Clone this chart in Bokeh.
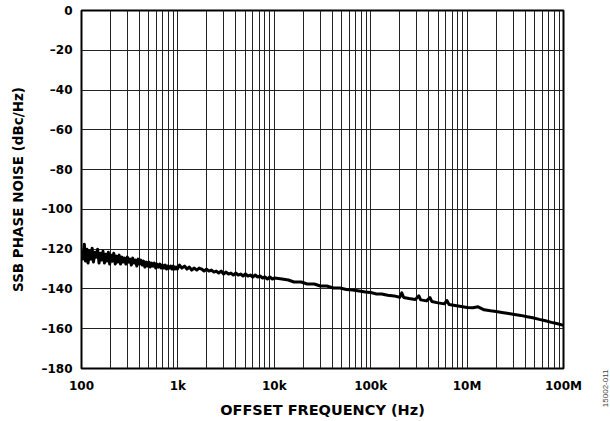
import math
from bokeh.plotting import figure
from bokeh.layouts import row
from bokeh.models import Range1d, FixedTicker
from bokeh.embed import file_html
from bokeh.resources import INLINE

# ---- data ----
freq_hz = [
    100, 103, 107, 110, 114, 117, 121, 125, 129, 133, 138, 142, 147, 152, 157,
    162, 167, 173, 178, 184, 190, 196, 203, 210, 216, 224, 231, 238, 246, 254,
    263, 271, 280, 289, 299, 309, 319, 329, 340, 351, 363, 375, 387, 400, 413,
    426, 440, 455, 470, 485, 501, 517, 534, 552, 570, 589, 608, 628, 649, 670,
    692, 715, 738, 762, 787, 813, 840, 868, 896, 926, 956, 988,
    1040, 1100, 1170, 1240, 1310, 1390, 1480, 1570, 1660, 1760, 1870, 1980,
    2100, 2230, 2360, 2500, 2650, 2810, 2980, 3160, 3350, 3550, 3760, 3980,
    4220, 4470, 4740, 5020, 5320, 5640, 5980, 6340, 6720, 7120, 7550, 8000,
    8480, 8990, 9530, 10100,
    12000, 14000, 16000, 19000, 22000, 26000, 30000, 35000, 41000, 48000,
    56000, 65000, 76000, 88000, 100000,
    115000, 130000, 150000, 175000, 200000, 210000, 220000, 250000, 290000,
    316000, 330000, 380000, 412000, 430000, 500000, 580000, 617000, 650000,
    750000, 870000, 1000000,
    1150000, 1300000, 1500000, 1750000, 2000000, 2300000, 2700000, 3100000,
    3600000, 4200000, 4800000, 5600000, 6500000, 7500000, 8700000, 10000000,
]
noise_dbc = [
    -121, -125, -117.5, -126, -120, -127, -121, -125, -119.5, -126.5, -121.5,
    -124, -120, -127, -122, -125.5, -121, -127, -122.5, -126, -121.5, -127.5,
    -123, -126, -122, -127.5, -123.5, -126.5, -123, -127.5, -124, -126.5,
    -124.5, -127.5, -124, -126.5, -125, -128, -124.5, -127, -125.5, -128.5,
    -125, -127.5, -125.5, -128, -126, -129, -126.5, -128.5, -126.5, -129,
    -127, -128.5, -127, -129.5, -127.5, -129, -127.5, -129.5, -128, -129.5,
    -128, -130, -128.5, -129.5, -128.5, -130, -128.5, -130, -129, -130,
    -128, -129.5, -128.5, -130, -129, -130.5, -129.5, -130.5, -129.5, -130,
    -131, -130, -131, -130.5, -131.5, -131, -132, -131, -132.5, -131.5,
    -132.5, -132, -133, -132, -133, -132.5, -133.5, -132.5, -133.5, -133,
    -134, -133, -134, -133.5, -134.5, -134, -135, -134, -135, -134.5,
    -135, -135.5, -136.5, -136.5, -137.5, -137.5, -138.5, -138.5, -139.5,
    -139.5, -140.3, -140.5, -141, -141.5, -141.8,
    -142.5, -142.5, -143.2, -143.5, -144.2, -142, -144.3, -144.8, -145.3,
    -143.5, -145.5, -146, -144.3, -146.3, -147, -147.5, -145.8, -147.8,
    -148.3, -148.8, -149.3,
    -149.5, -149, -150.5, -151, -151.3, -151.8, -152.3, -152.8, -153.3,
    -154, -154.5, -155.3, -156, -156.8, -157.5, -158.3,
]
x_tick_values = [1e2, 1e3, 1e4, 1e5, 1e6, 1e7]
x_tick_labels = ["100", "1k", "10k", "100k", "10M", "100M"]
y_tick_values = [0, -20, -40, -60, -80, -100, -120, -140, -160, -180]
y_tick_labels = ["0", "–20", "–40", "–60", "–80", "–100", "–120", "–140", "–160", "–180"]
x_title = "OFFSET FREQUENCY (Hz)"
y_title = "SSB PHASE NOISE (dBc/Hz)"
figure_id = "15002-011"

FONT = "DejaVu Sans"
ID_FONT = "Liberation Sans"

p = figure(
    frame_width=482, frame_height=358,
    x_axis_type="log",
    x_range=Range1d(1e2, 1e7), y_range=Range1d(-180, 0),
    output_backend="svg", toolbar_location=None,
    min_border_left=81, min_border_right=35,
    min_border_top=10, min_border_bottom=53,
)
p.background_fill_color = "white"
p.outline_line_color = "black"
p.outline_line_width = 2

minor_x = [d * m for d in x_tick_values[:-1] for m in range(2, 10)]
p.xaxis.ticker = FixedTicker(ticks=x_tick_values, minor_ticks=minor_x)
p.yaxis.ticker = FixedTicker(ticks=y_tick_values)
p.xaxis.major_label_overrides = {v: l for v, l in zip(x_tick_values, x_tick_labels)}
p.yaxis.major_label_overrides = {v: l for v, l in zip(y_tick_values, y_tick_labels)}

for ax in (p.xaxis, p.yaxis):
    ax.axis_line_color = None
    ax.major_tick_line_color = None
    ax.minor_tick_line_color = None
    ax.major_tick_out = 0
    ax.major_tick_in = 0
    ax.minor_tick_out = 0
    ax.minor_tick_in = 0
    ax.major_label_text_font = FONT
    ax.major_label_text_font_style = "bold"
    ax.major_label_text_font_size = "12px"
    ax.major_label_text_color = "black"
    ax.axis_label_text_font = FONT
    ax.axis_label_text_font_style = "bold"
    ax.axis_label_text_color = "black"

p.xaxis.axis_label = x_title
p.yaxis.axis_label = y_title
p.xaxis.axis_label_text_font_size = "14.5px"
p.yaxis.axis_label_text_font_size = "13.5px"
p.xaxis.major_label_standoff = 10
p.xaxis.axis_label_standoff = 6
p.yaxis.major_label_standoff = 9
p.yaxis.axis_label_standoff = 12

p.xgrid.grid_line_color = "#222222"
p.xgrid.grid_line_width = 1
p.xgrid.minor_grid_line_color = "#222222"
p.xgrid.minor_grid_line_width = 1
p.ygrid.grid_line_color = "#222222"
p.ygrid.grid_line_width = 1

p.line(freq_hz, noise_dbc, line_color="black", line_width=3, line_join="round")

# narrow strip on the right carrying the rotated figure id
side = figure(
    width=12, height=421,
    x_range=Range1d(0, 12), y_range=Range1d(0, 1),
    x_axis_location="below", y_axis_location=None,
    output_backend="svg", toolbar_location=None,
    min_border=0,
)
side.outline_line_color = None
side.grid.visible = False
side.background_fill_color = None
side.xaxis.ticker = FixedTicker(ticks=[7.0])
side.xaxis.major_label_overrides = {7.0: figure_id}
side.xaxis.major_label_orientation = math.pi / 2
side.xaxis.axis_line_color = None
side.xaxis.major_tick_line_color = None
side.xaxis.minor_tick_line_color = None
side.xaxis.major_tick_out = 0
side.xaxis.major_tick_in = 0
side.xaxis.minor_tick_out = 0
side.xaxis.minor_tick_in = 0
side.xaxis.major_label_standoff = 1
side.xaxis.major_label_text_font = ID_FONT
side.xaxis.major_label_text_font_size = "8px"
side.xaxis.major_label_text_color = "#444444"

layout = row(p, side, spacing=0)
open("out.html", "w").write(file_html(layout, INLINE))
